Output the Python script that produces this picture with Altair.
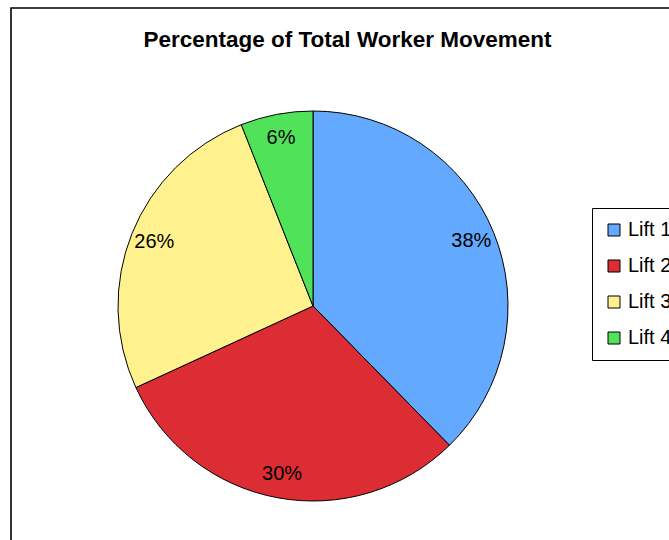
import altair as alt
import pandas as pd

lifts = ["Lift 1", "Lift 2", "Lift 3", "Lift 4"]
values = [37.7, 30.5, 25.9, 6.0]
labels = ["38%", "30%", "26%", "6%"]
colors = ["#63A9FF", "#DC2D34", "#FFF28E", "#50E35A"]
title_text = "Percentage of Total Worker Movement"

df = pd.DataFrame({"lift": lifts, "value": values, "label": labels, "idx": list(range(len(lifts)))})

CX, CY, R = 313, 306, 195
FONT = "Liberation Sans"

color = alt.Color(
    "lift:N",
    scale=alt.Scale(domain=lifts, range=colors),
    legend=alt.Legend(
        title=None, orient="none", legendX=592, legendY=208,
        symbolType="square", symbolSize=144, symbolStrokeColor="black", symbolStrokeWidth=1,
        symbolOpacity=1, labelFont=FONT, labelFontSize=20, labelColor="black",
        labelOffset=4, strokeColor="black", fillColor="white", padding=12, rowPadding=16,
    ),
)

base = alt.Chart(df)

arcs = base.mark_arc(outerRadius=R, stroke="black", strokeWidth=1, opacity=1).encode(
    theta=alt.Theta("value:Q", stack=True),
    order=alt.Order("idx:Q"),
    color=color,
    x=alt.value(CX), y=alt.value(CY),
)

texts = base.mark_text(radius=171, font=FONT, fontSize=20, color="black").encode(
    theta=alt.Theta("value:Q", stack=True),
    order=alt.Order("idx:Q"),
    text="label:N",
    x=alt.value(CX), y=alt.value(CY),
)

one = pd.DataFrame({"t": [title_text]})
title = alt.Chart(one).mark_text(font=FONT, fontSize=22.5, fontWeight="bold", color="black", baseline="middle").encode(
    text="t:N", x=alt.value(347.5), y=alt.value(40)
)

border = alt.Chart(one).mark_rect(filled=False, stroke="black", strokeWidth=1.6).encode(
    x=alt.value(11), y=alt.value(8), x2=alt.value(800), y2=alt.value(700)
)

chart = alt.layer(border, arcs, texts, title).properties(
    width=669, height=540,
    autosize=alt.AutoSizeParams(type="none"),
    padding=0,
    background="white",
).configure_view(stroke=None)

chart.save("out.html", embed_options={"renderer": "svg", "actions": False})
